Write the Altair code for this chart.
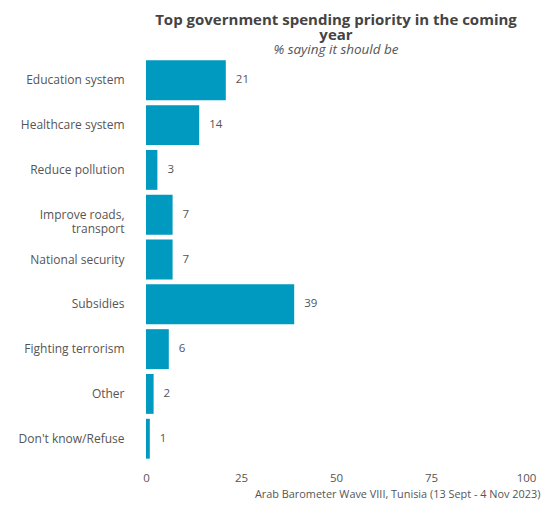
import altair as alt
import pandas as pd

categories = ["Education system", "Healthcare system", "Reduce pollution",
              "Improve roads, transport", "National security", "Subsidies",
              "Fighting terrorism", "Other", "Don't know/Refuse"]
values = [21, 14, 3, 7, 7, 39, 6, 2, 1]

df = pd.DataFrame({"category": categories, "value": values})
FONT = "Open Sans"
COLOR = "#0099c0"

base = alt.Chart(df).encode(
    y=alt.Y("category:N", sort=categories, title=None,
            scale=alt.Scale(paddingInner=0.11, paddingOuter=0.03),
            axis=alt.Axis(domain=False, ticks=False, labelPadding=22, labelFontSize=12,
                          labelColor="#555555", labelFont=FONT, labelLineHeight=14,
                          labelExpr="datum.label == 'Improve roads, transport' ? ['Improve roads,', 'transport'] : datum.label")),
    x=alt.X("value:Q", scale=alt.Scale(domain=[0, 100]),
            axis=alt.Axis(values=[0, 25, 50, 75, 100], domain=False, ticks=False, grid=False,
                          labelFlush=False,
                          labelPadding=12, labelFontSize=11.5, labelColor="#555555", labelFont=FONT,
                          title="Arab Barometer Wave VIII, Tunisia (13 Sept - 4 Nov 2023)",
                          titleFont=FONT, titleFontSize=10.9, titleFontWeight="normal",
                          titleColor="#555555", titleAlign="right", titleAnchor="end",
                          titleX=394, titlePadding=5)),
)

bars = base.mark_bar(color=COLOR)
labels = base.mark_text(align="left", dx=10, fontSize=11.5, color="#555555", font=FONT).encode(
    text="value:Q")

chart = (bars + labels).properties(
    width=380, height=401,
    autosize=alt.AutoSizeParams(type="none"),
    padding={"left": 138, "top": 51, "right": 15, "bottom": 40},
    title=alt.Title(["Top government spending priority in the coming", "year"],
                    subtitle="% saying it should be", anchor="middle",
                    font=FONT, fontSize=15, fontWeight="bold", color="#444444",
                    subtitleFont=FONT, subtitleFontSize=13.5, subtitleFontStyle="italic",
                    subtitleColor="#555555", lineHeight=15, subtitlePadding=0, offset=3),
).configure_view(stroke=None)

chart.save("out.html", embed_options={"renderer": "svg", "actions": False})
